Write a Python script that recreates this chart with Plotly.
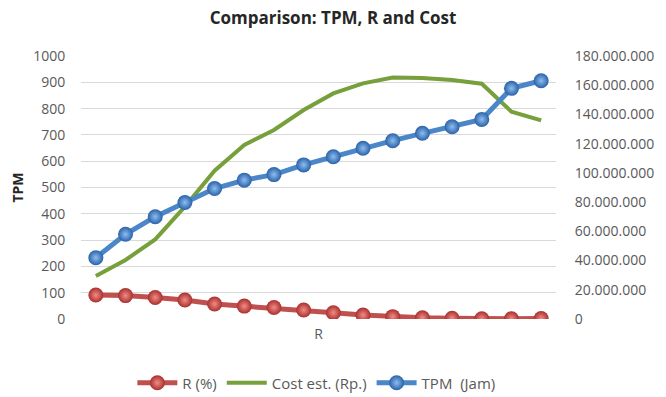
import plotly.graph_objects as go

# Sixteen observation points along the R axis
points = [1, 2, 3, 4, 5, 6, 7, 8, 9, 10, 11, 12, 13, 14, 15, 16]

r_pct = [91, 89, 82, 72, 57, 49, 44, 34, 24, 15, 9, 5, 3, 1, 1, 2]
cost_rp = [29.4e6, 40.4e6, 54.5e6, 76.9e6, 101.5e6, 119.1e6, 129.4e6, 143.0e6,
           154.4e6, 161.3e6, 165.2e6, 165.0e6, 163.6e6, 161.0e6, 141.9e6, 135.9e6]
tpm_jam = [233, 322, 389, 443, 496, 528, 549, 586, 617, 649, 678, 706, 731, 759, 877, 906]

left_ticks = [0, 100, 200, 300, 400, 500, 600, 700, 800, 900, 1000]
right_ticks = [0, 20e6, 40e6, 60e6, 80e6, 100e6, 120e6, 140e6, 160e6, 180e6]

FONT = "Open Sans"
GREY = "#595959"

fig = go.Figure()

# R (%) on the TPM scale, drawn with shaded ball markers
fig.add_trace(go.Scatter(
    x=points, y=r_pct, name="R (%)", yaxis="y2",
    mode="lines+markers",
    line=dict(color="#c0504d", width=5),
    marker=dict(size=15, color="#a8302d",
                gradient=dict(type="radial", color="#f28b87"),
                line=dict(width=0)),
))

# Cost estimate on the right-hand Rupiah scale
fig.add_trace(go.Scatter(
    x=points, y=cost_rp, name="Cost est. (Rp.)", yaxis="y",
    mode="lines",
    line=dict(color="#77a03c", width=4),
))

# TPM in hours
fig.add_trace(go.Scatter(
    x=points, y=tpm_jam, name="TPM  (Jam)", yaxis="y2",
    mode="lines+markers",
    line=dict(color="#4a86c8", width=5),
    marker=dict(size=15, color="#2a62a8",
                gradient=dict(type="radial", color="#8dbdf0"),
                line=dict(width=0)),
))

fig.update_layout(
    width=666, height=397,
    margin=dict(l=81, r=106, t=56, b=78),
    paper_bgcolor="white", plot_bgcolor="white",
    separators=",.",
    font=dict(family=FONT, size=14, color=GREY),
    title=dict(text="<b>Comparison: TPM, R and Cost</b>",
               x=0.5, xanchor="center", xref="container",
               y=1 - 18 / 397, yanchor="middle", yref="container",
               font=dict(family=FONT, size=17, color="#262626")),
    xaxis=dict(range=[0.5, 16.5], showticklabels=False, showgrid=False,
               zeroline=False, showline=False, ticks="",
               title=dict(text="R", standoff=10,
                          font=dict(family=FONT, size=14, color=GREY))),
    # right axis: cost in Rupiah
    yaxis=dict(side="right", range=[0, 180e6], tickvals=right_ticks,
               tickformat=",d", showgrid=False, zeroline=False,
               ticks="outside", ticklen=15, tickcolor="rgba(0,0,0,0)",
               tickfont=dict(family=FONT, size=14, color=GREY)),
    # left axis: TPM, carries the gridlines
    yaxis2=dict(side="left", overlaying="y", range=[0, 1000],
                tickvals=left_ticks, showgrid=True, gridcolor="#d9d9d9",
                gridwidth=1, zeroline=False,
                ticks="outside", ticklen=12, tickcolor="rgba(0,0,0,0)",
                tickfont=dict(family=FONT, size=14, color=GREY),
                title=dict(text="<b>TPM</b>", standoff=6,
                           font=dict(family=FONT, size=14, color="#262626"))),
    legend=dict(orientation="h", xref="container", yref="container",
                x=0.475, xanchor="center", y=1 - 383 / 397, yanchor="middle",
                font=dict(family=FONT, size=15, color=GREY),
                itemwidth=40, traceorder="normal"),
    showlegend=True,
)

fig.write_html("out.html")
